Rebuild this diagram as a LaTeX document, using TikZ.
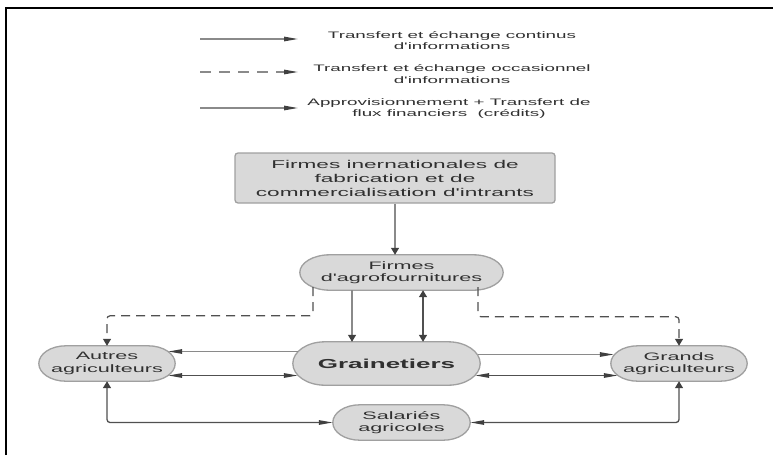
\documentclass[tikz,border=0pt]{standalone}
\usepackage{fontspec}
\usetikzlibrary{arrows.meta,calc,backgrounds}
\newfontfamily\lsans[FakeStretch=2.0,Ligatures=TeXOff]{Liberation Sans}
\definecolor{nfill}{HTML}{D9D9D9}
\definecolor{nborder}{HTML}{A0A0A0}
\definecolor{ntext}{HTML}{303030}
\definecolor{lgray}{HTML}{8A8A8A}
\definecolor{dgray}{HTML}{505050}
\definecolor{tipc}{HTML}{404040}
\newcommand\pillshape[2]{%
\path[pillbg] let \p1=(#1.south west), \p2=(#1.north east), \n1={(\y2-\y1)/2}, \n2={#2} in
 (\x1+\n2,\y1) -- (\x2-\n2,\y1)
 .. controls (\x2-0.448*\n2,\y1) and (\x2,\y1+0.448*\n1) .. (\x2,\y1+\n1)
 .. controls (\x2,\y2-0.448*\n1) and (\x2-0.448*\n2,\y2) .. (\x2-\n2,\y2)
 -- (\x1+\n2,\y2)
 .. controls (\x1+0.448*\n2,\y2) and (\x1,\y2-0.448*\n1) .. (\x1,\y1+\n1)
 .. controls (\x1,\y1+0.448*\n1) and (\x1+0.448*\n2,\y1) .. (\x1+\n2,\y1) -- cycle;}
\tikzset{
 ht/.tip={Triangle[length=14pt,width=4.5pt,color=tipc]},
 vt/.tip={Triangle[length=7pt,width=8pt,color=tipc]},
 box/.style={draw=nborder, fill=nfill, line width=1.3pt, rounded corners=3pt,
   minimum width=320pt, minimum height=50pt, inner sep=0pt, align=center,
   text=ntext, font=\lsans\fontsize{11.3}{14}\selectfont},
 pillnode/.style={inner sep=0pt, align=center, text=ntext,
   font=\lsans\fontsize{10.8}{12.5}\selectfont},
 pillbg/.style={draw=nborder, fill=nfill, line width=1.3pt},
 legtext/.style={inner sep=0pt, align=center, text=ntext,
   font=\lsans\fontsize{9.4}{11.5}\selectfont},
 single/.style={draw=lgray, line width=1.2pt},
 dbl/.style={draw=dgray, line width=1.3pt},
 dashline/.style={draw=dgray, line width=1.2pt, dash pattern=on 9pt off 6pt},
 legdash/.style={draw=lgray, line width=1.2pt, dash pattern=on 11pt off 8pt},
}
\begin{document}
\begin{tikzpicture}[x=1pt,y=-1pt]
\useasboundingbox (0,0) rectangle (773,455);
\draw[line width=2pt, black] (6,455) -- (6,8) -- (773,8);

% legend
\coordinate (l1a) at (200,39); \coordinate (l1b) at (298,39);
\coordinate (l2a) at (200,72); \coordinate (l2b) at (298,72);
\coordinate (l3a) at (200,108); \coordinate (l3b) at (298,108);
\draw[single,-ht] (l1a) -- (l1b);
\draw[legdash,-ht] (l2a) -- (l2b);
\draw[single,-ht] (l3a) -- (l3b);
\node[legtext] (leg1) at (452,40.5) {Transfert et échange continus\\d'informations};
\node[legtext] (leg2) at (452,74) {Transfert et échange occasionnel\\d'informations};
\node[legtext] (leg3) at (449,108.5) {Approvisionnement + Transfert de\\flux financiers \ (crédits)};

% nodes
\node[box] (top) at (395,178) {Firmes inernationales de\\fabrication et de\\commercialisation d'intrants};
\node[pillnode, minimum width=203pt, minimum height=35pt] (agro) at (401.5,272.5) {Firmes\\d'agrofournitures};
\node[pillnode, minimum width=187pt, minimum height=43pt, font=\lsans\bfseries\fontsize{13}{15}\selectfont] (grain) at (386.5,363.5) {Grainetiers};
\node[pillnode, minimum width=136pt, minimum height=35pt] (autres) at (107,363.5) {Autres\\agriculteurs};
\node[pillnode, minimum width=136pt, minimum height=35pt] (grands) at (679,363.5) {Grands\\agriculteurs};
\node[pillnode, minimum width=137pt, minimum height=35pt] (sal) at (401.5,422.5) {Salariés\\agricoles};

\begin{pgfonlayer}{background}
\pillshape{agro}{30}
\pillshape{grain}{32}
\pillshape{autres}{27}
\pillshape{grands}{27}
\pillshape{sal}{27}
\end{pgfonlayer}

% connectors
\draw[single,-vt] (top.south) -- (top.south |- agro.north);
\draw[single,-vt] ($(agro.south)+(-49.5,0)$) -- ($(grain.north)+(-34.5,0)$);
\draw[dbl,vt-vt] ($(agro.south)+(21.5,0)$) -- ($(grain.north)+(36.5,0)$);
\draw[dashline,-vt,rounded corners=3pt] ($(agro.south)+(-88.5,-3)$) |- ($(autres.north)+(0,-30)$) -- (autres.north);
\draw[dashline,-vt,rounded corners=3pt] ($(agro.south)+(76.5,-3)$) |- ($(grands.north)+(0,-29)$) -- (grands.north);
\draw[single,-ht] ($(grain.west)+(5,-12)$) -- ($(autres.east)+(-7,-12)$);
\draw[dbl,ht-ht] ($(autres.east)+(-7,12)$) -- ($(grain.west)+(5,12)$);
\draw[single,-ht] ($(grain.east)+(-2,-9)$) -- ($(grands.west)+(3,-9)$);
\draw[dbl,ht-ht] ($(grain.east)+(-5,12)$) -- ($(grands.west)+(7,12)$);
\draw[dbl,vt-ht,rounded corners=3pt] (autres.south) |- (sal.west);
\draw[dbl,vt-ht,rounded corners=3pt] (grands.south) |- (sal.east);
\end{tikzpicture}
\end{document}
